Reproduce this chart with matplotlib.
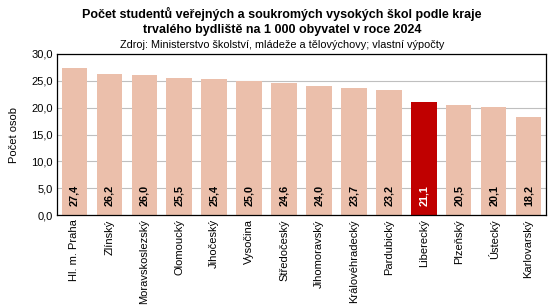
import matplotlib
matplotlib.use("Agg")
import matplotlib.pyplot as plt

plt.rcParams['font.family'] = ['Liberation Sans', 'DejaVu Sans']

regions = ['Hl. m. Praha', 'Zlínský', 'Moravskoslezský', 'Olomoucký', 'Jihočeský',
           'Vysočina', 'Středočeský', 'Jihomoravský', 'Královéhradecký', 'Pardubický',
           'Liberecký', 'Plzeňský', 'Ústecký', 'Karlovarský']
values = [27.4, 26.2, 26.0, 25.5, 25.4, 25.0, 24.6, 24.0, 23.7, 23.2, 21.1, 20.5, 20.1, 18.2]
highlight = 'Liberecký'

fig = plt.figure(figsize=(5.51, 3.05), dpi=100)
ax = fig.add_axes([0.1034, 0.295, 0.8876, 0.528])

colors = ['#c00000' if r == highlight else '#ebbfab' for r in regions]
x = range(len(regions))
ax.bar(x, values, width=0.73, color=colors, zorder=2)

# value labels inside the bars, at the bottom
for i, v in enumerate(values):
    txt_color = 'white' if regions[i] == highlight else 'black'
    ax.text(i, 1.6, f"{v:.1f}".replace('.', ','), rotation=90, ha='center', va='bottom',
            fontsize=7.8, fontweight='bold', color=txt_color, zorder=3)

ax.set_xlim(-0.5, len(regions) - 0.5)
ax.set_ylim(0, 30)
ax.set_yticks(range(0, 31, 5))
ax.set_yticklabels([f"{t:.1f}".replace('.', ',') for t in range(0, 31, 5)], fontsize=8)
ax.set_xticks(list(x))
ax.set_xticklabels(regions, rotation=90, fontsize=8)
ax.tick_params(axis='both', length=0, pad=3)
ax.yaxis.grid(True, color='#bfbfbf', linewidth=0.8, zorder=0)
ax.set_axisbelow(True)
for s in ax.spines.values():
    s.set_color('black')
    s.set_linewidth(0.9)
ax.set_ylabel('Počet osob', fontsize=8, labelpad=9)

fig.text(0.512, 0.977, 'Počet studentů veřejných a soukromých vysokých škol podle kraje\n'
         'trvalého bydliště na 1 000 obyvatel v roce 2024',
         ha='center', va='top', fontsize=9, fontweight='bold', linespacing=1.3)
fig.text(0.512, 0.87, 'Zdroj: Ministerstvo školství, mládeže a tělovýchovy; vlastní výpočty',
         ha='center', va='top', fontsize=7.8)

fig.savefig('out.png', dpi=100)
